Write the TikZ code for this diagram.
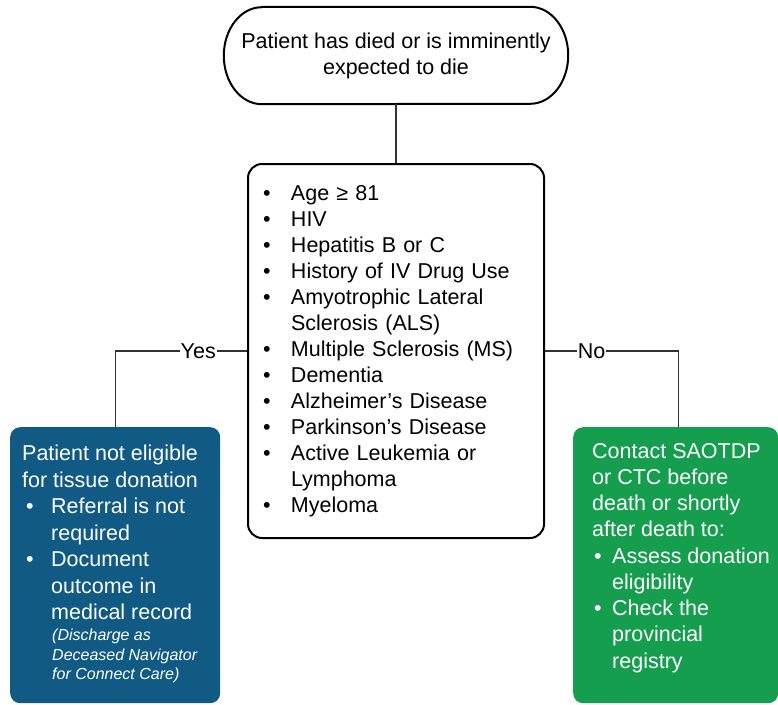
\documentclass[tikz,border=0pt]{standalone}
\usepackage{fontspec}
\setmainfont{Liberation Sans}
\definecolor{boxblue}{RGB}{16,90,132}
\definecolor{boxgreen}{RGB}{20,158,78}
\definecolor{linegray}{RGB}{50,50,50}
\newcommand\mybul[1]{\makebox[#1][l]{\textbullet}}
\begin{document}
\begin{tikzpicture}[x=1pt,y=-1pt,
  bigfont/.style={font=\fontsize{21.5pt}{26pt}\selectfont},
  conn/.style={draw=linegray, line width=1.4pt},
  outline/.style={draw=black, line width=2pt},
  lbl/.style={fill=white, inner xsep=1pt, inner ysep=0pt, text=black, font=\fontsize{21.5pt}{26pt}\selectfont},
  colbox/.style={rounded corners=10pt, inner sep=0pt, text=white, anchor=north west}]
\useasboundingbox (0,0) rectangle (778,704);

% start terminal
\node[draw=none, minimum width=344pt, minimum height=97pt, inner sep=0pt, align=center, bigfont] (start) at (396,55.5)
  {Patient has died or is imminently\\expected to die};
\draw[outline] ([xshift=38pt]start.north west) -- ([xshift=-38pt]start.north east)
  arc[start angle=90, end angle=-90, x radius=38pt, y radius=48.5pt]
  -- ([xshift=38pt]start.south west)
  arc[start angle=270, end angle=90, x radius=38pt, y radius=48.5pt] -- cycle;

% criteria list
\node[outline, rounded corners=14pt, minimum width=296pt, minimum height=374pt, inner sep=0pt,
      text width=266pt, align=left, bigfont] (list) at (396,351)
{\mybul{28pt}Age ≥ 81\\
\mybul{28pt}HIV\\
\mybul{28pt}Hepatitis B or C\\
\mybul{28pt}History of IV Drug Use\\
\mybul{28pt}Amyotrophic Lateral\\
\hspace*{28pt}Sclerosis (ALS)\\
\mybul{28pt}Multiple Sclerosis (MS)\\
\mybul{28pt}Dementia\\
\mybul{28pt}Alzheimer’s Disease\\
\mybul{28pt}Parkinson’s Disease\\
\mybul{28pt}Active Leukemia or\\
\hspace*{28pt}Lymphoma\\
\mybul{28pt}Myeloma};

% yes box
\node[colbox, fill=boxblue] (blue) at (10,427)
{\hspace*{12pt}\parbox[c][276pt][t]{198pt}{%
\vspace*{18pt}%
{\fontsize{21.5pt}{26.5pt}\selectfont
Patient not eligible\\
for tissue donation\\
\hspace*{4pt}\mybul{25pt}Referral is not\\
\hspace*{29pt}required\\
\hspace*{4pt}\mybul{25pt}Document\\
\hspace*{29pt}outcome in\\
\hspace*{29pt}medical record\par}
\vspace{1.5pt}
{\fontsize{16pt}{19.5pt}\selectfont\itshape
\hspace*{30pt}(Discharge as\\
\hspace*{30pt}Deceased Navigator\\
\hspace*{30pt}for Connect Care)\par}}};

% no box
\node[colbox, fill=boxgreen] (green) at (573,427)
{\hspace*{19pt}\parbox[c][276pt][t]{186pt}{%
\vspace*{16pt}%
{\fontsize{21.5pt}{26.25pt}\selectfont
Contact SAOTDP\\
or CTC before\\
death or shortly\\
after death to:\\
\hspace*{2pt}\mybul{18pt}Assess donation\\
\hspace*{20pt}eligibility\\
\hspace*{2pt}\mybul{18pt}Check the\\
\hspace*{20pt}provincial\\
\hspace*{20pt}registry\par}}};

\coordinate (gtop) at ([xshift=2.5pt]green.north);

% connectors
\draw[conn] (start.south) -- (start.south |- list.north);
\draw[conn] (list.west) -- node[lbl, pos=0.37] {Yes} (list.west -| blue.north) -- (blue.north);
\draw[conn] (list.east) -- node[lbl, pos=0.35] {No} (list.east -| gtop) -- (gtop);
\end{tikzpicture}
\end{document}
